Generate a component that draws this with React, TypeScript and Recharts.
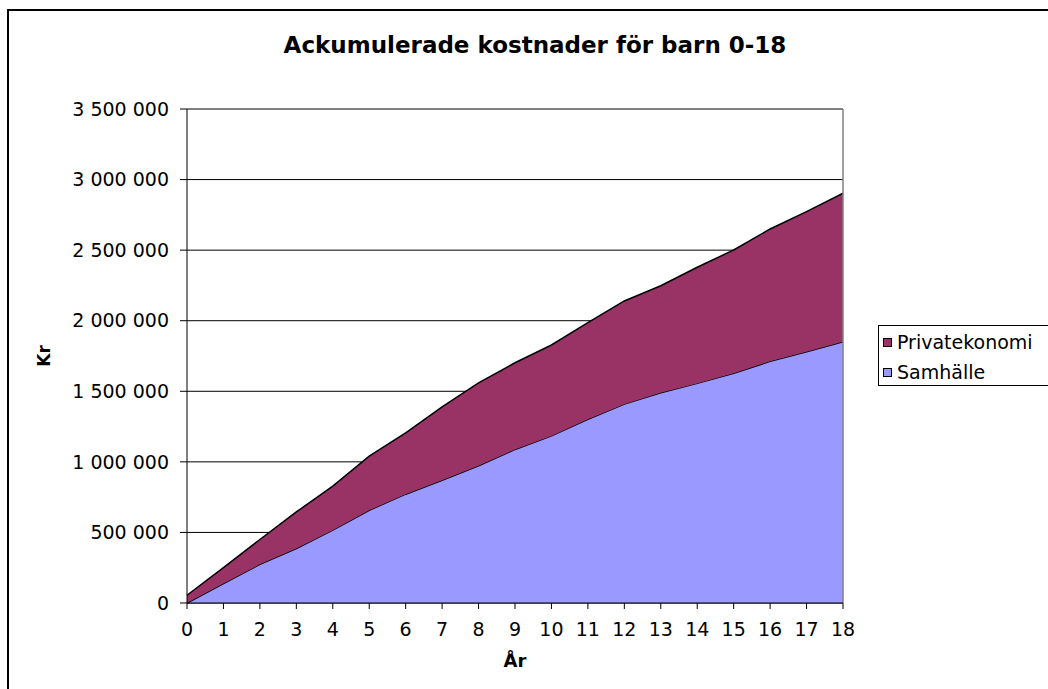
import React from 'react';
import {
  AreaChart,
  Area,
  XAxis,
  YAxis,
  CartesianGrid,
  ReferenceLine,
  Label,
} from 'recharts';

const years: string[] = ['0','1','2','3','4','5','6','7','8','9','10','11','12','13','14','15','16','17','18'];
const samhalle: number[] = [0, 138000, 274000, 386000, 516000, 657000, 771000, 870000, 972000, 1088000, 1184000, 1301000, 1409000, 1489000, 1556000, 1627000, 1712000, 1780000, 1851000];
const privatekonomi: number[] = [55000, 113000, 176000, 259000, 312000, 383000, 435000, 520000, 588000, 614000, 644000, 685000, 731000, 759000, 823000, 874000, 938000, 993000, 1052000];
const yTicks: number[] = [0, 500000, 1000000, 1500000, 2000000, 2500000, 3000000, 3500000];

const seriesNames = { priv: 'Privatekonomi', samh: 'Samhälle' };
const colors = { priv: '#993366', samh: '#9999FF' };

const data = years.map((y, i) => ({
  year: y,
  samhalle: samhalle[i],
  privatekonomi: privatekonomi[i],
}));

const FONT = '"DejaVu Sans", "Liberation Sans", Arial, sans-serif';

const fmt = (v: number) => String(v).replace(/\B(?=(\d{3})+(?!\d))/g, ' ');

export default function App() {
  return (
    <div
      style={{
        position: 'absolute',
        left: 0,
        top: 0,
        width: 1048,
        height: 689,
        overflow: 'hidden',
        background: '#fff',
        fontFamily: FONT,
      }}
    >
      <div
        style={{
          position: 'absolute',
          left: 7,
          top: 9,
          width: 1200,
          height: 900,
          border: '2px solid #000',
          boxSizing: 'border-box',
        }}
      />
      <div
        style={{
          position: 'absolute',
          left: 0,
          top: 34,
          width: 1070,
          textAlign: 'center',
          fontSize: 23,
          lineHeight: '23px',
          fontWeight: 'bold',
          color: '#000',
          whiteSpace: 'nowrap',
        }}
      >
        Ackumulerade kostnader för barn 0-18
      </div>
      <div style={{ position: 'absolute', left: 0, top: 0 }}>
        <AreaChart
          width={1048}
          height={689}
          data={data}
          margin={{ top: 109, right: 205, bottom: 16, left: 0 }}
        >
          <CartesianGrid vertical={false} stroke="#000" strokeWidth={1} />
          <XAxis
            dataKey="year"
            type="category"
            interval={0}
            height={70}
            tickSize={6}
            tickMargin={14}
            stroke="#000"
            tickLine={{ stroke: '#000' }}
            tick={{ fontSize: 19, fill: '#000', fontFamily: FONT }}
          >
            <Label
              value="År"
              position="insideBottom"
              offset={6}
              style={{ fontSize: 18, fontWeight: 'bold', fill: '#000', fontFamily: FONT }}
            />
          </XAxis>
          <YAxis
            width={187}
            domain={[0, 3500000]}
            ticks={yTicks}
            interval={0}
            tickSize={7}
            tickMargin={11}
            stroke="#000"
            tickLine={{ stroke: '#000' }}
            tickFormatter={fmt}
            tick={{ fontSize: 19, fill: '#000', fontFamily: FONT }}
          >
            <Label
              content={(props: any) => {
                const vb = props.viewBox || { x: 0, y: 109, width: 187, height: 494 };
                const cx = vb.x + 44;
                const cy = vb.y + vb.height / 2;
                return (
                  <text
                    x={cx}
                    y={cy}
                    transform={`rotate(-90, ${cx}, ${cy})`}
                    textAnchor="middle"
                    dominantBaseline="central"
                    style={{ fontSize: 17, fontWeight: 'bold', fill: '#000', fontFamily: FONT }}
                  >
                    Kr
                  </text>
                );
              }}
            />
          </YAxis>
          <Area
            type="linear"
            dataKey="samhalle"
            name={seriesNames.samh}
            stackId="1"
            stroke="#000"
            strokeWidth={1.5}
            fill={colors.samh}
            fillOpacity={1}
            isAnimationActive={false}
            dot={false}
            activeDot={false}
          />
          <Area
            type="linear"
            dataKey="privatekonomi"
            name={seriesNames.priv}
            stackId="1"
            stroke="#000"
            strokeWidth={1.5}
            fill={colors.priv}
            fillOpacity={1}
            isAnimationActive={false}
            dot={false}
            activeDot={false}
          />
          <ReferenceLine y={3500000} stroke="#808080" strokeWidth={1.5} />
          <ReferenceLine x="18" stroke="#808080" strokeWidth={1.5} />
        </AreaChart>
      </div>
      <div
        style={{
          position: 'absolute',
          left: 878,
          top: 325,
          width: 300,
          height: 61,
          border: '1px solid #000',
          boxSizing: 'border-box',
          fontSize: 19,
          color: '#000',
        }}
      >
        {[
          { name: seriesNames.priv, color: colors.priv },
          { name: seriesNames.samh, color: colors.samh },
        ].map((it, i) => (
          <div
            key={it.name}
            style={{
              position: 'absolute',
              left: 4,
              top: 4 + i * 30,
              height: 24,
              display: 'flex',
              alignItems: 'center',
              whiteSpace: 'nowrap',
            }}
          >
            <span
              style={{
                display: 'inline-block',
                width: 9,
                height: 9,
                background: it.color,
                border: '1px solid #000',
                boxSizing: 'border-box',
                marginRight: 5,
              }}
            />
            <span style={{ lineHeight: '24px' }}>{it.name}</span>
          </div>
        ))}
      </div>
    </div>
  );
}
